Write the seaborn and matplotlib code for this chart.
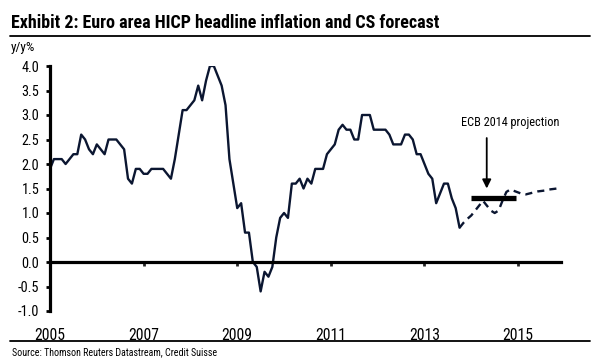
import os
import matplotlib
matplotlib.use("Agg")
import matplotlib.pyplot as plt
from matplotlib import font_manager
from matplotlib.font_manager import FontProperties
from matplotlib.lines import Line2D
import numpy as np
import pandas as pd
import seaborn as sns

# ---------------- data ----------------
title = "Exhibit 2: Euro area HICP headline inflation and CS forecast"
unit_label = "y/y%"
source_text = "Source: Thomson Reuters Datastream, Credit Suisse"
ecb_label = "ECB 2014 projection"

actual_start = "2005-01-01"
hicp_actual = [
    1.9, 2.1, 2.1, 2.1, 2.0, 2.1, 2.2, 2.2, 2.6, 2.5, 2.3, 2.2,   # 2005
    2.4, 2.3, 2.2, 2.5, 2.5, 2.5, 2.4, 2.3, 1.7, 1.6, 1.9, 1.9,   # 2006
    1.8, 1.8, 1.9, 1.9, 1.9, 1.9, 1.8, 1.7, 2.1, 2.6, 3.1, 3.1,   # 2007
    3.2, 3.3, 3.6, 3.3, 3.7, 4.0, 4.0, 3.8, 3.6, 3.2, 2.1, 1.6,   # 2008
    1.1, 1.2, 0.6, 0.6, 0.0, -0.1, -0.6, -0.2, -0.3, -0.1, 0.5, 0.9,  # 2009
    1.0, 0.9, 1.6, 1.6, 1.7, 1.5, 1.7, 1.6, 1.9, 1.9, 1.9, 2.2,   # 2010
    2.3, 2.4, 2.7, 2.8, 2.7, 2.7, 2.5, 2.5, 3.0, 3.0, 3.0, 2.7,   # 2011
    2.7, 2.7, 2.7, 2.6, 2.4, 2.4, 2.4, 2.6, 2.6, 2.5, 2.2, 2.2,   # 2012
    2.0, 1.8, 1.7, 1.2, 1.4, 1.6, 1.6, 1.3, 1.1, 0.7,             # 2013 (to Oct)
]

forecast_start = "2013-10-01"
cs_forecast = [
    0.7, 0.8, 0.88,                                                   # Oct-Dec 2013
    0.95, 1.05, 1.15, 1.25, 1.15, 1.05, 1.0, 1.05, 1.25, 1.43, 1.48, 1.45,  # 2014
    1.42, 1.39, 1.38, 1.4, 1.42, 1.44, 1.45, 1.46, 1.48, 1.49, 1.5, 1.52,   # 2015
]

ecb_proj_value = 1.3
ecb_proj_period = [2014.0, 2014.95]
ecb_arrow_x = 2014.33

year_ticks = [2005, 2007, 2009, 2011, 2013, 2015]
y_ticks = [-1.0, -0.5, 0.0, 0.5, 1.0, 1.5, 2.0, 2.5, 3.0, 3.5, 4.0]

# ---------------- frame ----------------
def decimal_year(start, n):
    d = pd.date_range(start, periods=n, freq="MS")
    return d.year + (d.month - 1) / 12.0

df = pd.concat([
    pd.DataFrame({"x": decimal_year(actual_start, len(hicp_actual)),
                  "y": hicp_actual, "kind": "Actual"}),
    pd.DataFrame({"x": decimal_year(forecast_start, len(cs_forecast)),
                  "y": cs_forecast, "kind": "Forecast"}),
], ignore_index=True)

# ---------------- fonts ----------------
sns.set_style("white")
plt.rcParams["font.family"] = ["Liberation Sans", "DejaVu Sans"]

def find_condensed():
    reg, bold = {}, {}
    for f in font_manager.fontManager.ttflist:
        fn = os.path.basename(f.fname).lower()
        if not ("narrow" in fn or "condensed" in fn):
            continue
        if any(k in fn for k in ("light", "thin", "semi", "extra", "medium", "black", "italic", "oblique")):
            continue
        w = f.weight if isinstance(f.weight, int) else (700 if "bold" in str(f.weight) else 400)
        if "bold" in fn or w >= 600:
            bold.setdefault(f.name, f.fname)
        else:
            reg.setdefault(f.name, f.fname)
    order = ["Liberation Sans Narrow", "Arial Narrow", "Roboto Condensed",
             "DejaVu Sans", "Open Sans Condensed", "Noto Sans", "Open Sans"]
    for name in order + sorted(reg):
        if name in reg:
            return reg[name], bold.get(name, reg[name]), name
    return None, None, None

reg_file, bold_file, cond_name = find_condensed()
if reg_file:
    fp_reg = lambda s: FontProperties(fname=reg_file, size=s)
    fp_bold = lambda s: FontProperties(fname=bold_file, size=s)
    scale = 1.0
else:
    fp_reg = lambda s: FontProperties(family="Liberation Sans", size=s)
    fp_bold = lambda s: FontProperties(family="Liberation Sans", weight="bold", size=s)
    scale = 0.87

line_color = "#0b1631"

fig = plt.figure(figsize=(6, 3.6), dpi=100)
fig.patch.set_facecolor("white")
ax = fig.add_axes([50 / 600, 1 - 311 / 360, 511 / 600, 245 / 360])

sns.lineplot(data=df, x="x", y="y", style="kind",
             dashes={"Actual": "", "Forecast": (3.0, 2.2)},
             color=line_color, linewidth=1.7, legend=False, ax=ax)

ax.set_xlim(2005, 2005 + 131 / 12)
ax.set_ylim(-1.0, 4.0)

# ECB projection bar and arrow
ax.hlines(ecb_proj_value, ecb_proj_period[0], ecb_proj_period[1],
          color="black", linewidth=3.8)
ax.annotate("", xy=(ecb_arrow_x, ecb_proj_value + 0.2), xytext=(ecb_arrow_x, 2.53),
            arrowprops=dict(arrowstyle="-|>", color="black", lw=1.3,
                            mutation_scale=13, shrinkA=0, shrinkB=0))
ax.text(2014.83, 2.84, ecb_label, ha="center", va="center",
        fontproperties=fp_reg(8.8 * scale), color="black")

# spines
for s in ["top", "right"]:
    ax.spines[s].set_visible(False)
ax.spines["left"].set_linewidth(2.3)
ax.spines["left"].set_color("black")
ax.spines["bottom"].set_position(("data", 0))
ax.spines["bottom"].set_linewidth(2.3)
ax.spines["bottom"].set_color("black")

ax.set_yticks(y_ticks)
ax.set_yticklabels([f"{v:.1f}" for v in y_ticks])
for lab in ax.get_yticklabels():
    lab.set_fontproperties(fp_reg(10.3 * scale))
ax.tick_params(axis="y", direction="out", length=3.2, width=2.0, pad=4.5,
               colors="black", left=True)
ax.set_xticks(year_ticks)
ax.set_xticklabels([])
ax.tick_params(axis="x", direction="out", length=3.2, width=2.0, bottom=True)
ax.set_xlabel("")
ax.set_ylabel("")
ax.grid(False)

sec = ax.secondary_xaxis("bottom")
sec.set_xticks(year_ticks)
sec.set_xticklabels([str(y) for y in year_ticks])
for lab in sec.get_xticklabels():
    lab.set_fontproperties(fp_reg(11.3 * scale))
sec.spines["bottom"].set_visible(False)
sec.tick_params(length=0, pad=12, colors="black")

# header / footer
fig.text(11 / 600, 1 - 23 / 360, title, fontproperties=fp_bold(13.0 * scale),
         ha="left", va="center", color="black")
fig.add_artist(Line2D([10 / 600, 590 / 600], [1 - 35.5 / 360] * 2,
                      transform=fig.transFigure, color="black", linewidth=1.3))
fig.text(11 / 600, 1 - 48 / 360, unit_label, fontproperties=fp_reg(9.5 * scale),
         ha="left", va="center", color="black")
fig.add_artist(Line2D([10 / 600, 590 / 600], [1 - 340.5 / 360] * 2,
                      transform=fig.transFigure, color="black", linewidth=1.3))
fig.text(12 / 600, 1 - 352.5 / 360, source_text, fontproperties=fp_reg(7.2 * scale),
         ha="left", va="center", color="black")

fig.savefig("out.png", dpi=100, facecolor="white")
